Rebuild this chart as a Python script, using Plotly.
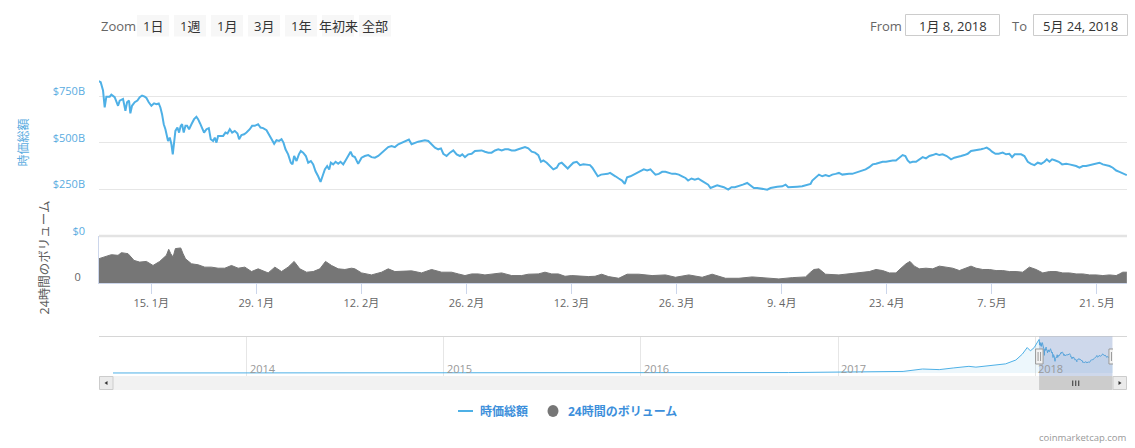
import pandas as pd
import plotly.graph_objects as go

# ---------------- data ----------------
# total market cap, billions USD; time = days since 2018-01-08 00:00
mcap_days = [
    0.00, 0.27, 0.58, 0.80, 1.02, 1.47, 1.69, 2.13, 2.58, 2.80,
    3.24, 3.56, 3.78, 4.04, 4.22, 4.44, 4.80, 5.16, 5.47, 5.78,
    6.13, 6.36, 6.67, 7.02, 7.38, 7.69, 8.00, 8.22, 8.44, 8.67,
    8.89, 9.11, 9.24, 9.47, 9.69, 9.87, 10.04, 10.22, 10.49, 10.71,
    10.93, 11.11, 11.33, 11.56, 11.78, 12.04, 12.36, 12.71, 13.02, 13.24,
    13.51, 13.78, 14.04, 14.36, 14.67, 14.93, 15.24, 15.47, 15.69, 15.91,
    16.27, 16.58, 16.89, 17.16, 17.47, 17.78, 18.13, 18.49, 18.71, 19.02,
    19.38, 19.69, 20.13, 20.44, 20.80, 21.24, 21.56, 21.91, 22.36, 22.80,
    23.11, 23.38, 23.69, 24.04, 24.36, 24.62, 24.89, 25.24, 25.60, 25.82,
    26.04, 26.36, 26.67, 26.93, 27.24, 27.60, 27.91, 28.27, 28.58, 28.89,
    29.24, 29.56, 29.82, 30.13, 30.44, 30.71, 30.93, 31.24, 31.56, 31.91,
    32.22, 32.58, 32.89, 33.24, 33.56, 33.82,
    34.13, 34.57, 35.02, 35.46, 35.91, 36.35, 36.80, 37.24, 37.69, 38.13,
    38.57, 39.02, 39.46, 39.91, 40.35, 40.80, 41.33, 41.69, 42.13, 42.57,
    43.02, 43.46, 43.91, 44.35, 44.80, 45.24, 45.60, 45.91, 46.35, 46.80,
    47.24, 47.69, 48.13, 48.44, 48.80, 49.24, 49.69, 50.13, 50.57, 51.02,
    51.46, 51.91, 52.35, 52.80, 53.24, 53.69, 54.13, 54.57, 55.02, 55.46,
    55.91, 56.35, 56.80, 57.24, 57.69, 58.13, 58.57, 58.93, 59.24, 59.69,
    60.13, 60.57, 61.02, 61.33, 61.69, 62.13, 62.49, 62.80, 63.24, 63.69,
    64.13, 64.57, 65.02, 65.46, 65.77, 66.13, 66.49, 66.93, 67.37, 67.82,
    68.13, 68.57,
    68.84, 69.29, 69.73, 70.09, 70.40, 70.84, 71.29, 71.73, 72.18, 72.62,
    73.07, 73.51, 73.82, 74.18, 74.62, 75.07, 75.51, 75.96, 76.40, 76.84,
    77.29, 77.73, 78.18, 78.53, 78.98, 79.42, 79.87, 80.31, 80.76, 81.20,
    81.51, 81.96, 82.40, 82.84, 83.29, 83.87, 84.31, 84.76, 85.29, 85.82,
    86.40, 86.84, 87.29, 87.73, 88.18, 88.62, 89.07, 89.51, 89.96, 90.40,
    91.07, 91.51, 91.87, 92.40, 93.07, 93.73, 94.40, 94.84, 95.07, 95.51,
    95.96, 96.40, 96.84, 97.29, 97.73, 98.18, 98.62, 99.07, 99.51, 99.96,
    100.40, 100.84, 101.29, 101.73, 102.18,
    102.67, 103.11, 103.56, 104.00, 104.44, 104.89, 105.33, 105.78, 106.22, 106.67,
    107.11, 107.47, 107.78, 108.09, 108.44, 108.89, 109.33, 109.78, 110.22, 110.67,
    111.11, 111.56, 112.00, 112.44, 112.98, 113.56, 114.00, 114.44, 114.89, 115.33,
    115.78, 116.22, 116.67, 117.11, 117.56, 118.00, 118.31, 118.67, 119.02, 119.47,
    119.91, 120.44, 120.89, 121.33, 121.69, 122.04, 122.44, 122.89, 123.33, 123.78,
    124.22, 124.67, 125.11, 125.56, 126.00, 126.31, 126.67, 127.02, 127.47, 127.91,
    128.36, 128.89, 129.33, 129.78, 130.22, 130.67, 131.11, 131.56, 132.00, 132.44,
    132.89, 133.33, 133.78, 134.22, 134.67, 135.11, 135.56, 136.00, 136.36, 136.67,
    136.98,
]
mcap_values = [
    831, 826, 781, 690, 748, 748, 759, 745, 699, 727,
    736, 672, 718, 727, 658, 699, 718, 727, 745, 754,
    748, 741, 718, 699, 712, 708, 712, 690, 654, 600,
    573, 537, 510, 528, 492, 438, 492, 564, 582, 555,
    591, 600, 555, 591, 591, 573, 600, 627, 640, 627,
    604, 573, 555, 573, 579, 519, 510, 528, 501, 537,
    537, 537, 555, 550, 573, 555, 564, 550, 519, 542,
    546, 555, 573, 591, 591, 600, 582, 579, 568, 537,
    510, 495, 514, 510, 519, 501, 465, 438, 393, 384,
    429, 402, 438, 456, 447, 429, 393, 402, 384, 347,
    320, 290, 320, 357, 375, 357, 393, 384, 398, 387,
    398, 384, 405, 429, 452, 429,
    423, 387, 420, 429, 434, 423, 420, 429, 447, 465,
    477, 483, 477, 492, 501, 510, 517, 492, 501, 506,
    510, 514, 510, 492, 474, 465, 470, 441, 429, 447,
    459, 438, 429, 438, 423, 438, 441, 456, 459, 459,
    452, 447, 447, 459, 465, 459, 465, 465, 459, 459,
    465, 470, 477, 470, 452, 447, 434, 398, 405, 393,
    375, 357, 366, 387, 393, 375, 362, 375, 393, 398,
    380, 384, 380, 380, 366, 344, 320, 329, 329, 333,
    338, 329,
    320, 308, 297, 279, 315, 320, 329, 338, 347, 357,
    351, 357, 344, 329, 333, 344, 344, 338, 333, 333,
    329, 320, 311, 297, 308, 302, 308, 297, 284, 275,
    257, 266, 272, 266, 261, 248, 261, 261, 266, 275,
    284, 272, 257, 257, 254, 254, 248, 257, 261, 264,
    266, 275, 261, 261, 264, 266, 272, 279, 297, 311,
    329, 320, 326, 320, 329, 333, 338, 329, 333, 333,
    333, 338, 347, 351, 357,
    369, 384, 387, 393, 398, 398, 402, 405, 405, 420,
    434, 429, 405, 393, 398, 398, 411, 423, 416, 429,
    434, 441, 434, 438, 429, 411, 420, 423, 429, 434,
    441, 456, 459, 459, 465, 470, 474, 465, 452, 441,
    441, 447, 438, 441, 423, 438, 438, 438, 429, 398,
    387, 380, 393, 387, 398, 411, 398, 411, 405, 398,
    384, 387, 384, 380, 375, 366, 375, 375, 380, 384,
    387, 393, 384, 380, 375, 366, 351, 344, 338, 329,
    326,
]

# 24h volume, billions USD; time = days since 2018-01-08 00:00
vol_days = [
    0.00, 0.80, 1.69, 2.58, 3.02, 3.91, 4.71, 5.47, 6.36, 7.24,
    8.13, 9.02, 9.33, 9.60, 9.91, 10.22, 10.58, 10.93, 11.24, 11.56,
    12.36, 13.24, 14.13, 15.02, 15.91, 16.80, 17.69, 18.58, 19.47, 20.36,
    21.24, 22.13, 22.58, 23.47, 24.36, 25.24, 26.04, 26.80, 27.69, 28.58,
    29.47, 30.22, 31.02, 31.91, 32.80, 33.69,
    34.13, 35.02, 36.35, 37.69, 38.57, 39.46, 40.80, 41.69, 43.02, 44.35,
    45.69, 47.02, 47.91, 48.80, 49.69, 50.57, 51.46, 52.35, 53.69, 55.02,
    56.35, 57.24, 58.57, 59.46, 60.35, 61.24, 62.13, 63.02, 64.35, 65.24,
    66.13, 67.02, 67.91,
    68.40, 69.29, 70.40, 71.96, 73.73, 75.51, 76.84, 78.62, 80.40, 81.73,
    83.51, 85.29, 87.07, 88.84, 90.62, 92.40, 94.18, 94.84, 95.29, 95.96,
    96.84, 98.62, 99.96, 101.73,
    102.67, 103.56, 104.44, 105.33, 106.22, 106.89, 107.56, 108.09, 108.67, 109.33,
    110.22, 111.11, 112.00, 112.89, 113.78, 114.67, 115.56, 116.22, 116.89, 117.78,
    118.67, 119.56, 120.44, 121.33, 122.22, 123.11, 124.00, 124.89, 125.78, 126.67,
    127.56, 128.44, 129.33, 130.22, 131.11, 132.00, 132.89, 133.78, 134.67, 135.56,
    136.00, 136.44, 136.98,
]
vol_values = [
    41.1, 44.0, 48.0, 46.9, 51.4, 49.7, 38.3, 35.4, 36.6, 29.7,
    36.6, 46.9, 57.1, 49.7, 44.0, 58.3, 59.4, 59.4, 49.7, 41.1,
    32.6, 30.9, 26.9, 26.9, 25.1, 25.1, 29.7, 25.1, 26.9, 19.4,
    24.0, 19.4, 17.1, 26.9, 19.4, 26.9, 36.6, 24.0, 18.3, 19.4,
    24.0, 36.6, 29.7, 24.0, 22.9, 25.1,
    24.0, 17.1, 13.7, 18.3, 24.0, 19.4, 19.4, 20.6, 17.1, 22.9,
    18.3, 18.3, 15.4, 12.6, 15.4, 15.4, 13.7, 14.9, 17.1, 12.6,
    12.6, 14.9, 15.4, 18.3, 15.4, 15.4, 11.4, 12.6, 11.4, 10.9,
    11.4, 14.9, 10.9,
    9.7, 8.0, 14.9, 14.9, 12.6, 13.7, 9.7, 13.7, 9.7, 14.9,
    8.0, 8.0, 10.3, 8.0, 6.9, 9.1, 10.3, 18.3, 22.9, 24.0,
    14.9, 13.7, 16.0, 18.3,
    19.4, 22.9, 21.1, 17.1, 17.1, 25.1, 32.6, 36.6, 28.6, 24.0,
    25.1, 24.0, 28.6, 26.9, 25.1, 21.1, 25.1, 28.6, 25.1, 22.9,
    22.9, 21.1, 21.1, 19.4, 19.4, 18.3, 26.9, 22.9, 17.1, 19.4,
    19.4, 17.1, 17.1, 15.4, 15.4, 13.7, 13.7, 12.6, 13.7, 12.6,
    15.4, 18.3, 18.3,
]

# navigator history (total market cap, billions USD) before 2018
nav_dates = [
    "2013-04-28", "2013-07-01", "2013-10-01", "2013-11-15", "2013-12-01",
    "2013-12-20", "2014-02-01", "2014-04-01", "2014-07-01", "2014-10-01",
    "2015-01-01", "2015-04-01", "2015-07-01", "2015-10-01", "2016-01-01",
    "2016-04-01", "2016-07-01", "2016-10-01", "2017-01-01", "2017-03-01",
    "2017-05-01", "2017-06-06", "2017-07-07", "2017-08-03", "2017-08-31",
    "2017-09-13", "2017-10-07", "2017-11-07", "2017-11-26", "2017-12-08",
    "2017-12-17", "2017-12-23", "2017-12-30", "2018-01-06",
]
nav_values = [
    1.5, 1.2, 1.8, 5, 13,
    8, 11, 7, 8, 5,
    4, 3.5, 4, 4, 7,
    7.5, 11, 12, 18, 22,
    40, 100, 85, 127, 166,
    146, 186, 227, 322, 468,
    630, 549, 630, 810,
]

x_tick_dates = ["2018-01-15", "2018-01-29", "2018-02-12", "2018-02-26", "2018-03-12",
                "2018-03-26", "2018-04-09", "2018-04-23", "2018-05-07", "2018-05-21"]
x_tick_labels = ["15. 1月", "29. 1月", "12. 2月", "26. 2月", "12. 3月",
                 "26. 3月", "9. 4月", "23. 4月", "7. 5月", "21. 5月"]
price_ticks = [0, 250, 500, 750, 1000]
price_tick_labels = ["$0", "$250B", "$500B", "$750B", ""]
nav_tick_dates = ["2014-01-01", "2015-01-01", "2016-01-01", "2017-01-01", "2018-01-01"]
nav_tick_labels = ["2014", "2015", "2016", "2017", "2018"]

range_buttons = ["1日", "1週", "1月", "3月", "1年", "年初来", "全部"]
from_text = "1月 8, 2018"
to_text = "5月 24, 2018"
sel_start = "2018-01-08"
sel_end = "2018-05-24"

assert len(mcap_days) == len(mcap_values)
assert len(vol_days) == len(vol_values)
assert len(nav_dates) == len(nav_values)

# ---------------- build ----------------
W, H = 1135, 448
FONT = "Open Sans, Noto Sans CJK JP, sans-serif"
BLUE = "#4eb0e6"
GRAY_VOL = "#767676"


def fx(X):
    return X / W


def fy(Y):
    return 1 - Y / H


base = pd.Timestamp("2018-01-08")
mcap_x = base + pd.to_timedelta(mcap_days, unit="D")
vol_x = base + pd.to_timedelta(vol_days, unit="D")
nav_x = list(pd.to_datetime(nav_dates)) + list(mcap_x)
nav_y = nav_values + mcap_values

fig = go.Figure()
fig.add_trace(go.Scatter(x=mcap_x, y=mcap_values, mode="lines", name="時価総額",
                         line=dict(color=BLUE, width=2), xaxis="x", yaxis="y",
                         showlegend=False))
fig.add_trace(go.Scatter(x=vol_x, y=vol_values, mode="lines", name="24時間のボリューム",
                         line=dict(color=GRAY_VOL, width=1), fill="tozeroy",
                         fillcolor=GRAY_VOL, xaxis="x", yaxis="y2", showlegend=False))
fig.add_trace(go.Scatter(x=nav_x, y=nav_y, mode="lines", line=dict(color=BLUE, width=1),
                         fill="tozeroy", fillcolor="rgba(78,176,230,0.10)",
                         xaxis="x3", yaxis="y3", showlegend=False, hoverinfo="skip"))

shapes = []
annotations = []


def rect(X0, X1, Y0, Y1, fill, line=None, lw=0, layer="above"):
    shapes.append(dict(type="rect", xref="paper", yref="paper",
                       x0=fx(X0), x1=fx(X1), y0=fy(Y1), y1=fy(Y0),
                       fillcolor=fill, line=dict(color=line or fill, width=lw), layer=layer))


def text(X, Y, s, size, color, anchor="left", angle=0, weight="normal"):
    annotations.append(dict(xref="paper", yref="paper", x=fx(X), y=fy(Y), text=s,
                            showarrow=False, xanchor=anchor, yanchor="middle",
                            textangle=angle,
                            font=dict(family=FONT, size=size, color=color, weight=weight)))


# range selector (visual)
text(99, 25.5, "Zoom", 13, "#666666")
btn_x = [137, 174, 211, 248, 285, 322, 359]
for bx, lab in zip(btn_x, range_buttons):
    rect(bx, bx + 32, 15, 36.5, "#f7f7f7")
    text(bx + 16, 25.5, lab, 13, "#333333", anchor="center")

text(868, 25.5, "From", 13, "#666666")
rect(905.5, 999.5, 14.5, 35.5, "white", "#cccccc", 1)
text(952.5, 25.5, from_text, 13, "#333333", anchor="center")
text(1010, 25.5, "To", 13, "#666666")
rect(1033.5, 1127.5, 14.5, 35.5, "white", "#cccccc", 1)
text(1080.5, 25.5, to_text, 13, "#333333", anchor="center")

# pane separator
shapes.append(dict(type="line", xref="paper", yref="paper", x0=fx(99), x1=fx(1127),
                   y0=fy(236), y1=fy(236), line=dict(color="#e3e3e3", width=2.5)))

# axis titles
text(22.5, 143, "時価総額", 12, "#5aacdf", anchor="center", angle=-90)
text(43.5, 258, "24時間のボリューム", 12.5, "#5e5e5e", anchor="center", angle=-90)

# navigator outline
shapes.append(dict(type="line", xref="paper", yref="paper", x0=fx(99), x1=fx(1127),
                   y0=fy(336.5), y1=fy(336.5), line=dict(color="#d6d6d6", width=1)))
# navigator year labels
for d, lab in zip(nav_tick_dates, nav_tick_labels):
    annotations.append(dict(xref="x3", yref="paper", x=d, y=fy(368), text=lab,
                            showarrow=False, xanchor="left", yanchor="middle", xshift=1,
                            font=dict(family=FONT, size=11, color="#999999")))
# selection mask
shapes.append(dict(type="rect", xref="x3", yref="paper", x0=sel_start, x1=sel_end,
                   y0=fy(376), y1=fy(336.5), fillcolor="rgba(102,133,194,0.32)",
                   line=dict(width=0), layer="above"))
# scrollbar
rect(113, 1113, 376, 390, "#f2f2f2")
rect(99.5, 113, 376.5, 389.5, "#ebebeb", "#cccccc", 1)
rect(1113, 1126.5, 376.5, 389.5, "#ebebeb", "#cccccc", 1)


def path(points):
    d = "M " + " L ".join(f"{fx(a):.5f},{fy(b):.5f}" for a, b in points) + " Z"
    return d


shapes.append(dict(type="path", xref="paper", yref="paper",
                   path=path([(104.5, 383), (107.5, 381), (107.5, 385)]),
                   fillcolor="#333333", line=dict(width=0)))
shapes.append(dict(type="path", xref="paper", yref="paper",
                   path=path([(1121.5, 383), (1118.5, 381), (1118.5, 385)]),
                   fillcolor="#333333", line=dict(width=0)))
shapes.append(dict(type="rect", xref="x3", yref="paper", x0=sel_start, x1=sel_end,
                   y0=fy(390), y1=fy(376), fillcolor="#cccccc", line=dict(width=0)))
mid = pd.Timestamp(sel_start) + (pd.Timestamp(sel_end) - pd.Timestamp(sel_start)) / 2
for dx in (-3, 0, 3):
    shapes.append(dict(type="line", xref="x3", yref="paper", xsizemode="pixel",
                       xanchor=mid, x0=dx, x1=dx, y0=fy(386), y1=fy(380.5),
                       line=dict(color="#333333", width=1)))
# navigator handles
for anchor in (sel_start, sel_end):
    shapes.append(dict(type="rect", xref="x3", yref="paper", xsizemode="pixel",
                       xanchor=anchor, x0=-3.5, x1=4, y0=fy(364), y1=fy(349),
                       fillcolor="#f2f2f2", line=dict(color="#999999", width=1)))
    for dx in (-1, 1.5):
        shapes.append(dict(type="line", xref="x3", yref="paper", xsizemode="pixel",
                           xanchor=anchor, x0=dx, x1=dx, y0=fy(361), y1=fy(352),
                           line=dict(color="#999999", width=1)))

# legend (visual)
shapes.append(dict(type="line", xref="paper", yref="paper", x0=fx(458), x1=fx(473),
                   y0=fy(411), y1=fy(411), line=dict(color=BLUE, width=2)))
shapes.append(dict(type="circle", xref="paper", yref="paper", x0=fx(547.5), x1=fx(558.5),
                   y0=fy(417), y1=fy(405), fillcolor=GRAY_VOL, line=dict(width=0)))
text(478, 411, "時価総額", 12, "#3d8fdb", weight="bold")
text(566, 411, "24時間のボリューム", 12, "#3d8fdb", weight="bold")

# credit
text(1129, 437.5, "coinmarketcap.com", 9.5, "#999999", anchor="right")

fig.update_layout(
    width=W, height=H, autosize=False,
    margin=dict(l=0, r=0, t=0, b=0, pad=0, autoexpand=False),
    paper_bgcolor="white", plot_bgcolor="white",
    font=dict(family=FONT, size=11, color="#666666"),
    showlegend=False,
    shapes=shapes, annotations=annotations,
    modebar=dict(bgcolor="rgba(0,0,0,0)", color="rgba(0,0,0,0)",
                 activecolor="rgba(0,0,0,0)"),
    xaxis=dict(domain=[fx(99), fx(1127)], anchor="y2", type="date", automargin=False,
               range=["2018-01-08 01:00", "2018-05-25 00:00"],
               tickmode="array", tickvals=x_tick_dates, ticktext=x_tick_labels,
               ticks="outside", ticklen=10, tickcolor="#ccd6eb", tickwidth=1,
               showline=True, linecolor="#ccd6eb", linewidth=1,
               showgrid=False, zeroline=False,
               tickfont=dict(size=11, color="#666666")),
    yaxis=dict(domain=[fy(235.8), fy(49.8)], anchor="x", range=[0, 1000], automargin=False,
               tickmode="array", tickvals=price_ticks, ticktext=price_tick_labels,
               ticklabelposition="outside", ticklabelstandoff=13, ticklabelshift=-5,
               showgrid=True, gridcolor="#e6e6e6", gridwidth=1,
               zeroline=False, showline=False, ticks="",
               tickfont=dict(size=11, color="#5aacdf")),
    yaxis2=dict(domain=[fy(283), fy(235.8)], anchor="x", range=[0, 80], automargin=False,
                tickmode="array", tickvals=[0, 80], ticktext=["0", ""],
                ticklabelposition="outside", ticklabelstandoff=15, ticklabelshift=-6,
                showgrid=True, gridcolor="#e6e6e6", zeroline=False,
                showline=True, linecolor="#ccd6eb", linewidth=1, ticks="",
                tickfont=dict(size=11, color="#666666")),
    xaxis3=dict(domain=[fx(113), fx(1113)], anchor="y3", type="date", automargin=False,
                range=["2013-04-28", "2018-05-25"],
                tickmode="array", tickvals=nav_tick_dates, ticktext=nav_tick_labels,
                showticklabels=False, ticks="",
                showgrid=True, gridcolor="#e6e6e6", zeroline=False, showline=False),
    yaxis3=dict(domain=[fy(376), fy(336.5)], anchor="x3", range=[-73, 903],
                automargin=False, visible=False, showgrid=False, zeroline=False),
)

fig.write_html(
    "out.html",
    post_script=(
        "document.body.style.margin='0';document.body.style.overflow='hidden';"
        "document.querySelectorAll('.modebar-container').forEach(function(e){e.style.display='none';});"
    ),
)
